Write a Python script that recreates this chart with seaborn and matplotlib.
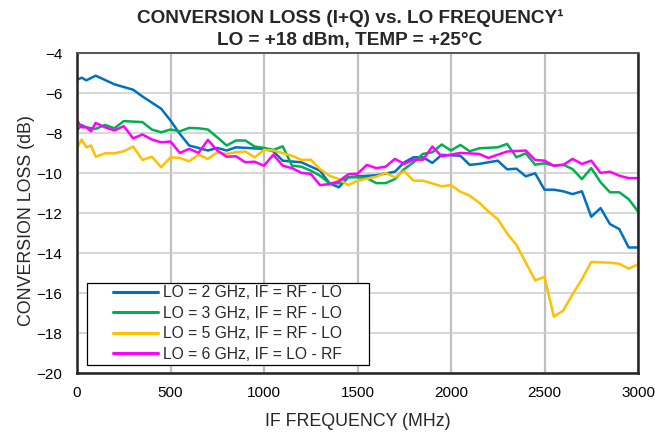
import numpy as np
import pandas as pd
import matplotlib
matplotlib.use("Agg")
import matplotlib.pyplot as plt
from matplotlib.patches import Rectangle
import seaborn as sns

# data (IF frequency in MHz, conversion loss in dB)
lo2_x = [0, 25, 50, 100, 200, 300, 350, 450, 500, 550, 600, 700, 750, 800, 850, 1000,
         1050, 1100, 1200, 1300, 1350, 1400, 1450, 1500, 1600, 1700, 1750, 1800, 1850,
         1900, 1950, 2050, 2100, 2150, 2250, 2300, 2350, 2400, 2450, 2500, 2550, 2600,
         2650, 2700, 2750, 2800, 2850, 2900, 2950, 3000]
lo2_y = [-5.32, -5.22, -5.35, -5.12, -5.55, -5.82, -6.16, -6.77, -7.36, -8.03, -8.61,
         -8.86, -8.73, -8.86, -8.70, -8.78, -8.90, -9.37, -9.45, -9.87, -10.5, -10.7,
         -10.2, -10.15, -10.1, -9.92, -9.45, -9.2, -9.2, -9.48, -9.08, -9.12, -9.58,
         -9.53, -9.37, -9.8, -9.77, -10.15, -10.0, -10.82, -10.82, -10.9, -11.04, -10.9,
         -12.17, -11.74, -12.54, -12.79, -13.71, -13.71]

lo3_x = [0, 25, 50, 100, 150, 200, 250, 350, 400, 450, 500, 550, 600, 650, 700, 750,
         800, 850, 900, 950, 1000, 1050, 1100, 1150, 1200, 1250, 1300, 1350, 1400, 1450,
         1500, 1550, 1600, 1650, 1700, 1750, 1800, 1850, 1900, 1950, 2000, 2050, 2100,
         2150, 2250, 2300, 2350, 2400, 2450, 2500, 2550, 2600, 2650, 2700, 2750, 2800,
         2850, 2900, 2950, 3000]
lo3_y = [-7.86, -7.58, -7.7, -7.78, -7.58, -7.75, -7.39, -7.44, -7.81, -7.95, -7.81,
         -7.9, -7.73, -7.75, -7.81, -8.2, -8.61, -8.36, -8.36, -8.66, -8.73, -8.83,
         -8.65, -9.62, -9.67, -9.87, -10.12, -10.5, -10.5, -10.2, -10.2, -10.24, -10.49,
         -10.49, -10.29, -9.79, -9.45, -9.03, -8.95, -8.56, -8.86, -8.58, -8.9, -8.75,
         -8.7, -8.53, -9.2, -9.0, -9.57, -9.5, -9.62, -9.57, -9.79, -10.29, -9.74,
         -10.45, -10.95, -10.95, -11.29, -11.91]

lo5_x = [0, 25, 50, 75, 100, 150, 200, 250, 300, 350, 400, 450, 500, 550, 600, 650,
         700, 750, 800, 850, 900, 950, 1000, 1050, 1150, 1200, 1250, 1300, 1350, 1400,
         1450, 1500, 1600, 1650, 1700, 1750, 1800, 1850, 1950, 2000, 2050, 2100, 2150,
         2200, 2250, 2300, 2350, 2400, 2450, 2500, 2550, 2600, 2650, 2700, 2750, 2850,
         2900, 2950, 3000]
lo5_y = [-8.73, -8.31, -8.7, -8.61, -9.17, -9.0, -9.0, -8.9, -8.66, -9.33, -9.17, -9.7,
         -9.2, -9.23, -9.4, -9.07, -9.28, -8.95, -9.03, -8.95, -8.91, -9.2, -8.83, -8.86,
         -9.12, -9.33, -9.32, -9.79, -10.12, -10.29, -10.59, -10.37, -10.17, -9.98,
         -10.2, -9.9, -10.37, -10.37, -10.65, -10.59, -10.92, -11.12, -11.46, -11.91,
         -12.29, -13.01, -13.58, -14.47, -15.35, -15.18, -17.17, -16.86, -16.05, -15.3,
         -14.43, -14.47, -14.52, -14.77, -14.55]

lo6_x = [0, 25, 50, 75, 100, 150, 200, 250, 300, 350, 400, 450, 500, 550, 600, 650,
         700, 750, 800, 850, 900, 950, 1000, 1050, 1100, 1150, 1200, 1250, 1300, 1350,
         1400, 1450, 1500, 1550, 1600, 1650, 1700, 1750, 1800, 1850, 1900, 1950, 2050,
         2150, 2200, 2300, 2400, 2450, 2500, 2550, 2600, 2650, 2700, 2750, 2800, 2850,
         2900, 2950, 3000]
lo6_y = [-7.36, -7.7, -7.7, -7.9, -7.48, -7.7, -7.86, -7.64, -8.25, -8.06, -8.31, -8.45,
         -8.41, -8.98, -8.78, -8.98, -8.33, -8.86, -9.17, -9.15, -9.45, -9.42, -9.62,
         -9.07, -9.62, -9.74, -9.98, -10.03, -10.59, -10.54, -10.4, -10.05, -10.02,
         -9.58, -9.74, -9.67, -9.28, -9.53, -9.32, -9.32, -8.66, -9.15, -8.98, -9.03,
         -9.23, -8.91, -8.86, -9.33, -9.37, -9.62, -9.58, -9.28, -9.53, -9.37, -9.98,
         -9.92, -10.12, -10.24, -10.24]

labels = ["LO = 2 GHz, IF = RF - LO", "LO = 3 GHz, IF = RF - LO",
          "LO = 5 GHz, IF = RF - LO", "LO = 6 GHz, IF = LO - RF"]
colors = ["#0070C0", "#00B050", "#FFC000", "#FF00FF"]

xticks = [0, 500, 1000, 1500, 2000, 2500, 3000]
yticks = [-4, -6, -8, -10, -12, -14, -16, -18, -20]

frames = []
for lab, xs, ys in zip(labels, [lo2_x, lo3_x, lo5_x, lo6_x], [lo2_y, lo3_y, lo5_y, lo6_y]):
    frames.append(pd.DataFrame({"freq": xs, "loss": ys, "curve": lab}))
df = pd.concat(frames, ignore_index=True)

sns.set_theme(style="whitegrid")
plt.rcParams["font.family"] = ["Liberation Sans", "DejaVu Sans"]

W, H = 655, 433
fig = plt.figure(figsize=(W / 100, H / 100), dpi=100)
ax = fig.add_axes([77 / W, 1 - 373.3 / H, 561 / W, 320 / H])

sns.lineplot(data=df, x="freq", y="loss", hue="curve", hue_order=labels,
             palette=colors, linewidth=1.8, sort=False, estimator=None, ax=ax)

ax.set_xlim(0, 3000)
ax.set_ylim(-20, -4)
ax.set_xticks(xticks)
ax.set_yticks(yticks)
ax.tick_params(axis="both", length=0, labelsize=11, colors="black")
ax.tick_params(axis="y", pad=10.5)
ax.tick_params(axis="x", pad=9)

ax.grid(False)
ax.xaxis.grid(True, color="#bfbfbf", linewidth=1.6)
ax.yaxis.grid(True, color="#d0d0d0", linewidth=1.2)
ax.set_facecolor("white")
for side in ["left", "bottom", "right"]:
    ax.spines[side].set_color("#222222")
    ax.spines[side].set_linewidth(1.8)
ax.spines["top"].set_color("#555555")
ax.spines["top"].set_linewidth(1.4)

ax.set_xlabel("IF FREQUENCY (MHz)", fontsize=12.8)
ax.set_ylabel("CONVERSION LOSS (dB)", fontsize=12.8)
ax.xaxis.set_label_coords(0.5, -(413 - 373.3) / 320)
ax.yaxis.set_label_coords(-(77 - 35) / 561, (373.3 - 221) / 320)

fig.text(350 / W, 1 - 23 / H, "CONVERSION LOSS (I+Q) vs. LO FREQUENCY\u00b9",
         ha="center", va="baseline", fontsize=13.7, fontweight="bold")
fig.text(350 / W, 1 - 45 / H, "LO = +18 dBm, TEMP = +25\u00b0C",
         ha="center", va="baseline", fontsize=13.7, fontweight="bold")

# legend box drawn separately so the side padding can match the reference
box = Rectangle((87 / W, 1 - 365 / H), 282 / W, 81.7 / H, transform=fig.transFigure,
                facecolor="white", edgecolor="black", linewidth=0.9, zorder=4.5,
                clip_on=False)
ax.add_patch(box)
leg = ax.legend(loc="center left", bbox_to_anchor=(113 / W, 1 - 323.7 / H),
                bbox_transform=fig.transFigure, fontsize=11.25, frameon=False,
                handlelength=2.88, handletextpad=0.3, labelspacing=0.35,
                borderpad=0, borderaxespad=0)
for line in leg.get_lines():
    line.set_linewidth(2.2)

plt.savefig("out.png", dpi=100)
plt.close()
